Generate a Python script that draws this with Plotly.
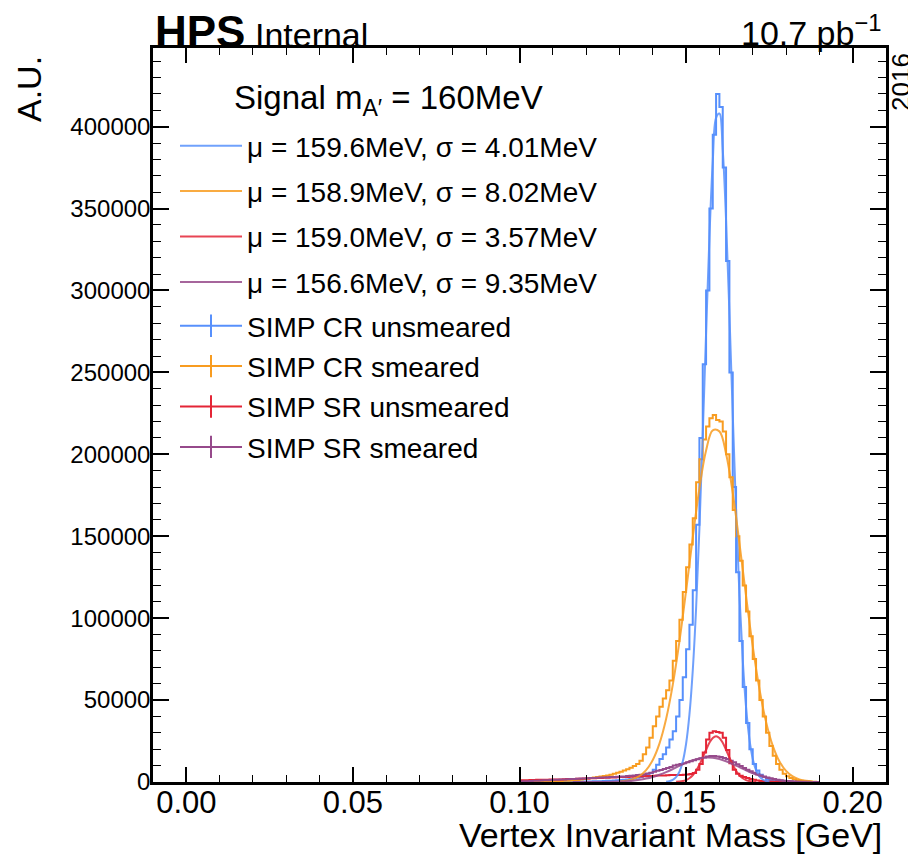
import numpy as np
import plotly.graph_objects as go

# ---------------- data ----------------
bin_lo = 0.100   # GeV, lower edge of first listed bin
bin_w = 0.001    # GeV, bin width

# SIMP CR unsmeared (bins 0.100 ... 0.190 GeV)
cr_unsmeared = [40, 50, 60, 70, 80, 90, 100, 110, 120, 140,
                150, 170, 180, 200, 210, 230, 250, 260, 280, 290,
                300, 350, 400, 450, 500, 600, 700, 800, 900, 1000,
                1200, 1400, 1600, 1900, 2200, 2600, 3000, 3600, 4300, 5500,
                7500, 10500, 14000, 17000, 21000, 26000, 31000, 40000, 50000, 64000,
                81000, 96000, 117000, 157000, 210000, 255000, 300000, 350000, 395000, 420000,
                412000, 375000, 318000, 250000, 180000, 128000, 86000, 58000, 36000, 20000,
                11000, 7000, 4500, 3000, 1800, 1000, 600, 400, 250, 150,
                100, 80, 60, 50, 40, 30, 20, 20, 10, 10]
# SIMP CR smeared
cr_smeared = [300, 320, 340, 360, 380, 400, 430, 460, 490, 520,
              550, 600, 650, 700, 800, 900, 1000, 1200, 1500, 1800,
              2100, 2400, 2700, 3000, 3300, 3600, 4000, 4400, 5000, 5600,
              6300, 7000, 7800, 8700, 9800, 11000, 13000, 17000, 21000, 27000,
              34000, 40000, 46000, 51000, 56000, 62000, 74000, 86000, 99000, 116000,
              131000, 145000, 161000, 183000, 197000, 209000, 217000, 222000, 224000, 221000,
              220000, 214000, 200000, 186000, 166000, 150000, 135000, 120000, 104000, 89000,
              75000, 62000, 50000, 40000, 30000, 22000, 16000, 11000, 7500, 5000,
              3500, 2500, 1700, 1100, 700, 400, 250, 150, 100, 60]
# SIMP SR unsmeared
sr_unsmeared = [1000, 1100, 1100, 1200, 1200, 1300, 1300, 1400, 1400, 1500,
                1500, 1600, 1600, 1700, 1800, 1800, 1900, 2000, 2000, 2100,
                2200, 2300, 2300, 2400, 2500, 2600, 2600, 2700, 2800, 2900,
                3000, 3100, 3100, 3200, 3300, 3300, 3400, 3500, 3600, 3700,
                3800, 3900, 4000, 4000, 4100, 4200, 4200, 4300, 4300, 4400,
                4600, 4900, 5500, 7500, 11000, 18000, 26000, 30000, 31000, 30500,
                30000, 27000, 19500, 11500, 7500, 5000, 3800, 3000, 2400, 1800,
                1300, 900, 650, 450, 350, 250, 200, 150, 100, 80,
                60, 50, 40, 30, 20, 20, 10, 10, 10, 10]
# SIMP SR smeared
sr_smeared = [300, 400, 500, 600, 700, 800, 900, 1000, 1100, 1200,
              1300, 1400, 1500, 1600, 1700, 1800, 1900, 2000, 2100, 2200,
              2300, 2400, 2500, 2600, 2700, 2800, 2900, 3000, 3100, 3200,
              3300, 3400, 3600, 3800, 4000, 4200, 4400, 4800, 5200, 5700,
              6300, 6800, 7300, 7900, 8500, 9200, 10000, 10500, 11000, 11500,
              12000, 12600, 13300, 13900, 14500, 15000, 15500, 15800, 15800, 15500,
              15200, 14600, 14000, 13000, 12000, 10900, 9800, 8600, 7500, 6600,
              5700, 4800, 4000, 3400, 2800, 2300, 1800, 1400, 1100, 800,
              600, 450, 300, 200, 150, 100, 80, 60, 40, 30]

fit_cr_unsm_x = [0.144, 0.145, 0.146, 0.147, 0.148, 0.149, 0.150, 0.151, 0.152, 0.153,
                 0.154, 0.155, 0.156, 0.157, 0.158, 0.159, 0.160, 0.161, 0.162, 0.163,
                 0.164, 0.165, 0.166, 0.167, 0.168, 0.169, 0.170, 0.171, 0.172, 0.173,
                 0.174, 0.175]
fit_cr_unsm_y = [212, 540, 1300, 2940, 6250, 12460, 23340, 41100, 68000, 105900,
                 154700, 212400, 274000, 332100, 378600, 405400, 408000, 385800, 342800, 286200,
                 224600, 165600, 114700, 74700, 45700, 26300, 14200, 7200, 3440, 1540,
                 650, 260]
fit_cr_sm_x = [0.130, 0.132, 0.134, 0.136, 0.138, 0.140, 0.142, 0.144, 0.146, 0.148,
               0.150, 0.152, 0.154, 0.156, 0.158, 0.160, 0.162, 0.164, 0.166, 0.168,
               0.170, 0.172, 0.174, 0.176, 0.178, 0.180, 0.182, 0.184, 0.186, 0.188]
fit_cr_sm_y = [330, 780, 1740, 3660, 7240, 13440, 23460, 38450, 59250, 85770,
               116700, 149200, 179200, 202300, 214600, 214000, 200400, 176500, 146000, 113500,
               82900, 56900, 36700, 22250, 12670, 6780, 3410, 1610, 720, 300]
fit_sr_unsm_x = [0.147, 0.148, 0.149, 0.150, 0.151, 0.152, 0.153, 0.154, 0.155, 0.156,
                 0.157, 0.158, 0.159, 0.160, 0.161, 0.162, 0.163, 0.164, 0.165, 0.166,
                 0.167, 0.168, 0.169, 0.170, 0.171]
fit_sr_unsm_y = [99, 243, 554, 1167, 2274, 4096, 6821, 10500, 14950, 19670,
                 23930, 26920, 28000, 26920, 23930, 19670, 14950, 10500, 6821, 4096,
                 2274, 1167, 554, 243, 99]
fit_sr_sm_x = [0.116, 0.118, 0.120, 0.122, 0.124, 0.126, 0.128, 0.130, 0.132, 0.134,
               0.136, 0.138, 0.140, 0.142, 0.144, 0.146, 0.148, 0.150, 0.152, 0.154,
               0.156, 0.158, 0.160, 0.162, 0.164, 0.166, 0.168, 0.170, 0.172, 0.174,
               0.176, 0.178, 0.180, 0.182, 0.184, 0.186, 0.188]
fit_sr_sm_y = [1, 3, 7, 16, 34, 71, 139, 262, 471, 808,
               1325, 2073, 3102, 4433, 6050, 7887, 9825, 11690, 13290, 14430,
               14970, 14830, 14040, 12700, 10970, 9050, 7134, 5370, 3864, 2655,
               1743, 1094, 655, 375, 205, 107, 53]

fit_labels = ["μ = 159.6MeV, σ = 4.01MeV",
              "μ = 158.9MeV, σ = 8.02MeV",
              "μ = 159.0MeV, σ = 3.57MeV",
              "μ = 156.6MeV, σ = 9.35MeV"]
hist_labels = ["SIMP CR unsmeared", "SIMP CR smeared",
               "SIMP SR unsmeared", "SIMP SR smeared"]
colors = ["#5790fc", "#f89c20", "#e42536", "#964a8b"]

x_ticks = [0.00, 0.05, 0.10, 0.15, 0.20]
y_ticks = [0, 50000, 100000, 150000, 200000, 250000, 300000, 350000, 400000]

# ---------------- figure ----------------
SANS = "Liberation Sans, Arial, Helvetica, sans-serif"

hists = [cr_unsmeared, cr_smeared, sr_unsmeared, sr_smeared]
fits = [(fit_cr_unsm_x, fit_cr_unsm_y), (fit_cr_sm_x, fit_cr_sm_y),
        (fit_sr_unsm_x, fit_sr_unsm_y), (fit_sr_sm_x, fit_sr_sm_y)]

fig = go.Figure()

# histograms (step lines)
for vals, col in zip(hists, colors):
    n = len(vals)
    edges = bin_lo + bin_w * np.arange(n + 1)
    fig.add_trace(go.Scatter(
        x=edges, y=list(vals) + [vals[-1]], mode="lines",
        line=dict(color=col, width=2, shape="hv"),
        showlegend=False, hoverinfo="skip"))

# fit curves
for i, ((fx, fy), col, lab) in enumerate(zip(fits, colors, fit_labels)):
    fig.add_trace(go.Scatter(
        x=fx, y=fy, mode="lines", name=lab,
        line=dict(color=col, width=2, shape="spline"),
        opacity=0.85, legend="legend", legendgroup=f"fit{i}"))

# legend entries for histograms (line + error-bar cross)
for i, (col, lab) in enumerate(zip(colors, hist_labels)):
    fig.add_trace(go.Scatter(
        x=[None], y=[None], mode="lines+markers", name=lab,
        line=dict(color=col, width=2),
        marker=dict(symbol="line-ns", size=16, line=dict(color=col, width=2)),
        legend="legend2", legendgroup=f"hist{i}"))

# page body has an 8px margin: the figure is placed at (8, 8)
W, H = 908, 846
PL, PR, PT, PB = 153, 886, 48, 782        # plot-area edges in screen pixels
L, T = PL - 8, PT - 8
R, B = W + 8 - PR, H + 8 - PB
pw, ph = PR - PL, PB - PT


def px(xpix):
    return (xpix - PL) / pw


def py(ypix):
    return (PB - ypix) / ph


fig.update_layout(
    width=W, height=H,
    margin=dict(l=L, r=R, t=T, b=B),
    paper_bgcolor="white", plot_bgcolor="white",
    font=dict(family=SANS, color="black"),
    legend=dict(x=px(175), xanchor="left", y=py(121), yanchor="top",
                bgcolor="rgba(0,0,0,0)", font=dict(size=28, family=SANS),
                tracegroupgap=6, traceorder="grouped", itemwidth=62),
    legend2=dict(x=px(175), xanchor="left", y=py(301), yanchor="top",
                 bgcolor="rgba(0,0,0,0)", font=dict(size=28, family=SANS),
                 tracegroupgap=1, traceorder="grouped", itemwidth=62),
    xaxis=dict(range=[-0.01, 0.21], tickvals=x_ticks, tickformat=".2f",
               ticks="inside", ticklen=15, tickwidth=1.5, tickcolor="black",
               minor=dict(dtick=0.01, tick0=0, ticks="inside", ticklen=7,
                          tickwidth=1, tickcolor="black"),
               showline=True, linewidth=2.5, linecolor="black", mirror="ticks",
               showgrid=False, zeroline=False, ticklabelstandoff=-9,
               tickfont=dict(size=31, family=SANS)),
    yaxis=dict(range=[0, 448000], tickvals=y_ticks, tickformat="d",
               ticks="inside", ticklen=16, tickwidth=1.5, tickcolor="black",
               minor=dict(dtick=10000, tick0=0, ticks="inside", ticklen=8,
                          tickwidth=1, tickcolor="black"),
               showline=True, linewidth=2.5, linecolor="black", mirror="ticks",
               showgrid=False, zeroline=False, ticklabelstandoff=-5,
               tickfont=dict(size=24, family=SANS)),
    annotations=[
        dict(text="<b>HPS</b><span style='font-size:34px'> Internal</span>",
             x=0, xref="paper", xanchor="left", y=1, yref="paper",
             yanchor="bottom", yshift=-10, showarrow=False,
             font=dict(size=44, family=SANS)),
        dict(text="10.7 pb<sup>−1</sup>", x=px(884), xref="paper",
             xanchor="right", y=1, yref="paper", yanchor="bottom", yshift=-6,
             showarrow=False, font=dict(size=34, family=SANS)),
        dict(text="2016", x=px(901), xref="paper", xanchor="center",
             y=1, yref="paper", yanchor="top", yshift=-3, textangle=-90,
             showarrow=False, font=dict(size=26, family=SANS)),
        dict(text="A.U.", x=px(29), xref="paper", xanchor="center",
             y=1, yref="paper", yanchor="top", yshift=-6, textangle=-90,
             showarrow=False, font=dict(size=34, family=SANS)),
        dict(text="Vertex Invariant Mass [GeV]", x=px(884), xref="paper",
             xanchor="right", y=py(835), yref="paper", yanchor="middle",
             showarrow=False, font=dict(size=34, family=SANS)),
        dict(text="Signal m<sub>A′</sub> = 160MeV", x=px(232), xref="paper",
             xanchor="left", y=py(100), yref="paper", yanchor="middle",
             showarrow=False, font=dict(size=33, family=SANS)),
    ],
)

fig.write_html("out.html")
